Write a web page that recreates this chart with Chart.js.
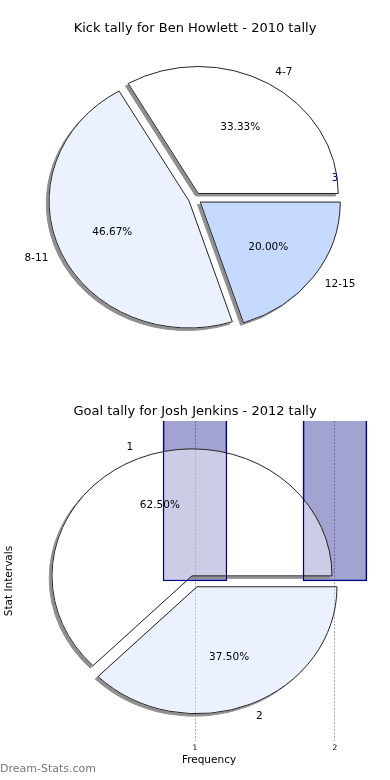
<!DOCTYPE html>
<html>
<head>
<meta charset="utf-8">
<script src="https://cdn.jsdelivr.net/npm/chart.js@4.4.1/dist/chart.umd.min.js"></script>
<style>
  body { margin: 0; background: #fff; }
  #wrap { position: relative; width: 390px; height: 780px; overflow: hidden; }
  canvas { position: absolute; left: 0; }
  #kickPie { top: 0; }
  #goalBars, #goalPie { top: 390px; }
  #goalPie { pointer-events: none; }
  #mark { position: absolute; left: 0; top: 762px; font: 11px "DejaVu Sans", sans-serif; color: #777; }
</style>
</head>
<body>
<div id="wrap">
  <canvas id="kickPie" width="390" height="390"></canvas>
  <canvas id="goalBars" width="390" height="390"></canvas>
  <canvas id="goalPie" width="390" height="390"></canvas>
  <div id="mark">Dream-Stats.com</div>
</div>
<script>
Chart.defaults.font.family = '"DejaVu Sans", sans-serif';
Chart.defaults.color = '#000';
Chart.defaults.animation = false;

// data
const kickLabels = ['4-7', '8-11', '12-15'];
const kickValues = [5, 7, 3];
const goalLabels = ['1', '2'];
const goalValues = [5, 3];
const freqTicks = [1, 2];
const barPos = [1, 2];
const barTop = [3, 3];   // runs past the top of the plot and gets clipped
const barBase = 1;
const strayText = '3';

const kickColors = ['#ffffff', '#ebf1ff', '#c6d9ff'];
const goalColors = ['rgba(255,255,255,0.45)', 'rgba(211,224,255,0.45)'];

// pies are squashed into ellipses, matplotlib style
const RADIUS = 140;
const SQUASH = 127 / 140;
const EXPLODE = 6.5;
const SHADOW = '#8f8f8f';

function drawArcAs(arc, ctx, over) {
  const ghost = Object.create(arc);
  ghost.options = Object.assign({}, arc.options, over);
  ghost.draw(ctx);
}

function placeArc(ctx, arc, dx, dy) {
  const mid = (arc.startAngle + arc.endAngle) / 2;
  ctx.translate(arc.x + dx, arc.y + dy);
  ctx.scale(1, SQUASH);
  ctx.translate(Math.cos(mid) * EXPLODE - arc.x, Math.sin(mid) * EXPLODE - arc.y);
}

const squashedPie = {
  id: 'squashedPie',
  beforeDatasetDraw(chart, args) {
    const ctx = chart.ctx;
    const arcs = args.meta.data;
    ctx.save();
    // shadow
    arcs.forEach(arc => {
      ctx.save();
      placeArc(ctx, arc, -2.8, 2.5);
      drawArcAs(arc, ctx, {backgroundColor: SHADOW, borderColor: SHADOW});
      ctx.restore();
    });
    // cut the shadow away under the slices
    ctx.globalCompositeOperation = 'destination-out';
    arcs.forEach(arc => {
      ctx.save();
      placeArc(ctx, arc, 0, 0);
      drawArcAs(arc, ctx, {backgroundColor: '#000', borderColor: '#000'});
      ctx.restore();
    });
    ctx.restore();
    arcs.forEach(arc => {
      ctx.save();
      placeArc(ctx, arc, 0, 0);
      arc.draw(ctx);
      ctx.restore();
    });
    return false;
  },
  afterDatasetsDraw(chart) {
    const ctx = chart.ctx;
    const meta = chart.getDatasetMeta(0);
    const labels = chart.data.labels;
    ctx.save();
    ctx.font = '10.5px "DejaVu Sans"';
    ctx.fillStyle = '#000';
    ctx.textBaseline = 'middle';
    meta.data.forEach((arc, i) => {
      const mid = (arc.startAngle + arc.endAngle) / 2;
      const c = Math.cos(mid), s = Math.sin(mid) * SQUASH;
      const tx = arc.x + c * EXPLODE, ty = arc.y + s * EXPLODE;
      const r = arc.outerRadius;
      const pct = arc.circumference / (2 * Math.PI) * 100;
      ctx.textAlign = 'center';
      ctx.fillText(pct.toFixed(2) + '%', tx + c * r * 0.6, ty + s * r * 0.6);
      ctx.textAlign = c >= 0 ? 'left' : 'right';
      ctx.fillText(labels[i], tx + c * r * 1.1, ty + s * r * 1.1);
    });
    ctx.restore();
  }
};

const strayTick = {
  id: 'strayTick',
  afterDatasetsDraw(chart) {
    const ctx = chart.ctx;
    const arc = chart.getDatasetMeta(0).data[0];
    ctx.save();
    ctx.font = '10px "DejaVu Sans"';
    ctx.fillStyle = '#00008b';
    ctx.textAlign = 'center';
    ctx.textBaseline = 'middle';
    ctx.fillText(strayText, arc.x + arc.outerRadius, arc.y - 20);
    ctx.restore();
  }
};

// matplotlib goes counter-clockwise from 3 o'clock, chart.js clockwise
function pieConfig(labels, values, colors, title, padding, extra) {
  return {
    type: 'pie',
    data: {
      labels: labels.slice().reverse(),
      datasets: [{
        data: values.slice().reverse(),
        backgroundColor: colors.slice().reverse(),
        borderColor: '#1a1a1a',
        borderWidth: 1,
        borderJoinStyle: 'miter',
        radius: RADIUS
      }]
    },
    options: {
      responsive: false,
      rotation: 90,
      layout: {padding: padding},
      plugins: {
        legend: {display: false},
        tooltip: {enabled: false},
        title: {
          display: !!title,
          text: title,
          color: '#000',
          font: {size: 13, weight: 'normal'},
          padding: {top: 21, bottom: 0}
        }
      }
    },
    plugins: extra.concat([squashedPie])
  };
}

new Chart(document.getElementById('kickPie'),
  pieConfig(kickLabels, kickValues, kickColors, 'Kick tally for Ben Howlett - 2010 tally',
    {bottom: 29.4}, [strayTick]));

// bars behind the second pie
const goalBars = new Chart(document.getElementById('goalBars'), {
  type: 'bar',
  data: {
    datasets: [{
      data: barPos.map((x, i) => ({x: x, y: barTop[i]})),
      base: barBase,
      backgroundColor: 'rgba(0,0,128,0.36)',
      borderColor: '#00008b',
      borderWidth: 1,
      borderSkipped: false,
      barThickness: 64
    }]
  },
  options: {
    responsive: false,
    scales: {
      x: {
        type: 'linear',
        min: -0.193,
        max: 2.393,
        offset: false,
        afterBuildTicks: s => { s.ticks = freqTicks.map(v => ({value: v})); },
        afterFit: s => { s.height = 39; },
        grid: {offset: false, color: '#aaa', drawTicks: false},
        border: {display: false, dash: [2, 1.5]},
        ticks: {font: {size: 7.5}, padding: 3, color: '#000'},
        title: {display: true, text: 'Frequency', font: {size: 10.5}, padding: {top: 0, bottom: 13.4}}
      },
      y: {
        min: 0,
        max: 2,
        afterFit: s => { s.width = 28; },
        grid: {display: false},
        border: {display: false},
        ticks: {display: false},
        title: {display: true, text: 'Stat Intervals', font: {size: 10.5}, padding: {top: 3.4, bottom: 0}}
      }
    },
    plugins: {
      legend: {display: false},
      tooltip: {enabled: false},
      title: {
        display: true,
        text: 'Goal tally for Josh Jenkins - 2012 tally',
        color: '#000',
        font: {size: 13, weight: 'normal'},
        padding: {top: 14.2, bottom: 1.2}
      }
    }
  }
});

// bar outlines sit on top of the see-through pie
const barEdges = {
  id: 'barEdges',
  afterDatasetsDraw(chart) {
    const ctx = chart.ctx;
    const area = goalBars.chartArea;
    const bars = goalBars.getDatasetMeta(0).data;
    ctx.save();
    ctx.beginPath();
    ctx.rect(area.left, area.top, area.right - area.left, area.bottom - area.top);
    ctx.clip();
    ctx.strokeStyle = '#00008b';
    ctx.lineWidth = 1;
    bars.forEach(bar => {
      const p = bar.getProps(['x', 'y', 'base', 'width'], true);
      const top = Math.min(p.y, p.base), bottom = Math.max(p.y, p.base);
      ctx.strokeRect(p.x - p.width / 2 + 0.5, top + 0.5, p.width - 1, bottom - top - 1);
    });
    ctx.restore();
  }
};

new Chart(document.getElementById('goalPie'),
  pieConfig(goalLabels, goalValues, goalColors, '', {top: 31, bottom: 38.4, right: 1}, [barEdges]));
</script>
</body>
</html>
